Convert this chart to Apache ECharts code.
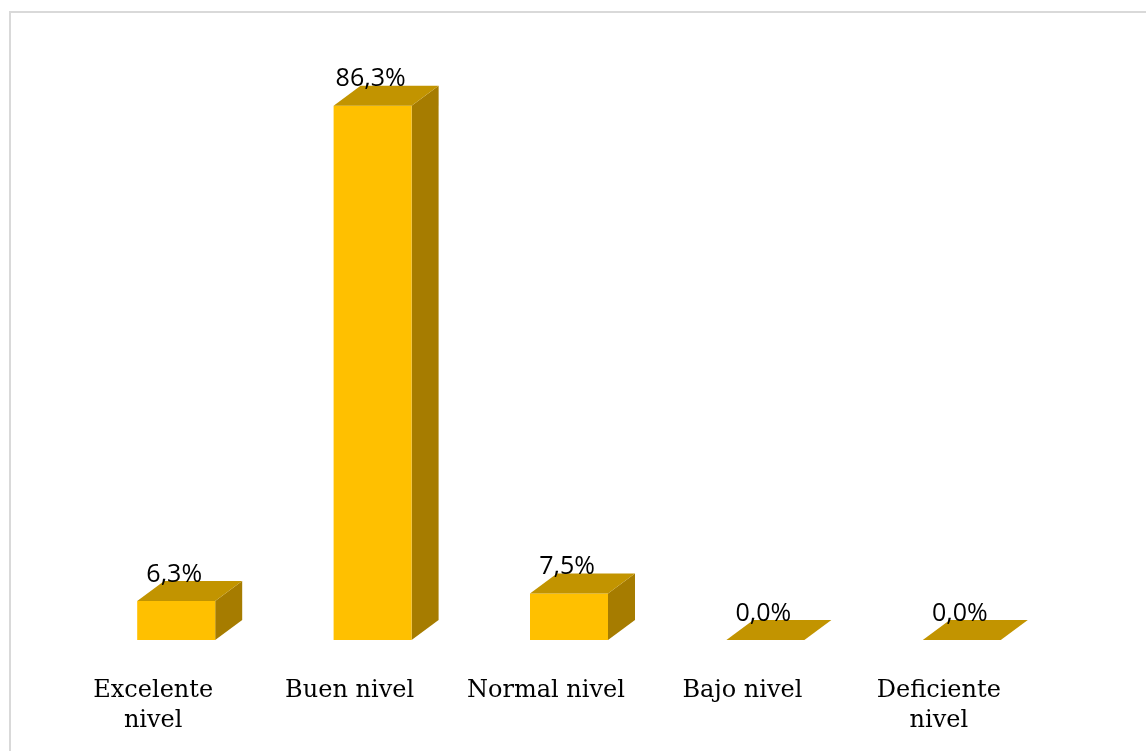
<!DOCTYPE html>
<html><head><meta charset="utf-8">
<script src="https://cdn.jsdelivr.net/npm/echarts@6/dist/echarts.min.js"></script>
<style>html,body{margin:0;padding:0;background:#fff}#c{width:1146px;height:751px}</style>
</head><body><div id="c"></div>
<script>
const categories = ['Excelente\nnivel', 'Buen nivel', 'Normal nivel', 'Bajo nivel', 'Deficiente\nnivel'];
const values = [6.3, 86.3, 7.5, 0.0, 0.0];
const valueLabels = ['6,3%', '86,3%', '7,5%', '0,0%', '0,0%'];

const chart = echarts.init(document.getElementById('c'), null, {renderer: 'canvas'});
const FRONT = '#FFC000', TOP = '#C29400', SIDE = '#A67C00';
const OFF = 23, W = 78, DX = 27, DY = 20;

chart.setOption({
  animation: false,
  graphic: [{type: 'rect', shape: {x: 10, y: 12, width: 1200, height: 800}, style: {fill: 'none', stroke: '#D9D9D9', lineWidth: 2}, silent: true}],
  grid: {left: 55, right: 109, top: 21, bottom: 111},
  xAxis: {
    type: 'category', data: categories,
    axisLine: {show: false}, axisTick: {show: false},
    axisLabel: {margin: 36, fontFamily: 'DejaVu Serif', fontSize: 24, color: '#000', lineHeight: 30, interval: 0}
  },
  yAxis: {type: 'value', min: 0, max: 100, show: false, splitLine: {show: false}},
  series: [{
    type: 'custom',
    data: values.map((v, i) => [i, v]),
    renderItem: function (params, api) {
      const i = api.value(0), v = api.value(1);
      const top = api.coord([i, v]);
      const base = api.coord([i, 0]);
      const x0 = top[0] - OFF + 7, x1 = x0 + W;
      const yb = base[1], yt = top[1];
      const children = [];
      if (yb - yt > 0.5) {
        children.push({type: 'polygon', shape: {points: [[x1, yb], [x1 + DX, yb - DY], [x1 + DX, yt - DY], [x1, yt]]}, style: {fill: SIDE}});
        children.push({type: 'rect', shape: {x: x0, y: yt, width: W, height: yb - yt}, style: {fill: FRONT}});
      }
      children.push({type: 'polygon', shape: {points: [[x0, yt], [x1, yt], [x1 + DX, yt - DY], [x0 + DX, yt - DY]]}, style: {fill: TOP}});
      children.push({type: 'text', z2: 10, style: {text: valueLabels[i], x: (x0 + x1) / 2 - 2, y: yt - DY + 6, align: 'center', verticalAlign: 'bottom', font: '25px "Open Sans"', fill: '#000'}});
      return {type: 'group', children: children};
    }
  }]
});
</script></body></html>
